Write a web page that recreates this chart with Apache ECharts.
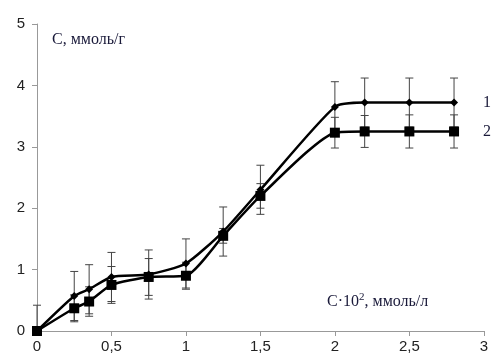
<!DOCTYPE html>
<html>
<head>
<meta charset="utf-8">
<script src="https://cdn.jsdelivr.net/npm/echarts@6/dist/echarts.min.js"></script>
<style>
  html, body { margin: 0; padding: 0; background: #fff; }
  #main { width: 491px; height: 361px; }
</style>
</head>
<body>
<div id="main"></div>
<script>
// концентрация, C*10^2 ммоль/л
var xs = [0, 0.25, 0.35, 0.5, 0.75, 1, 1.25, 1.5, 2, 2.2, 2.5, 2.8];
// кривая 1
var s1 = [0, 0.57, 0.68, 0.88, 0.92, 1.1, 1.62, 2.3, 3.65, 3.72, 3.72, 3.72];
var err1 = [0.42, 0.4, 0.4, 0.4, 0.4, 0.4, 0.4, 0.4, 0.41, 0.4, 0.4, 0.4];
// кривая 2
var s2 = [0, 0.37, 0.48, 0.75, 0.88, 0.9, 1.55, 2.2, 3.23, 3.25, 3.25, 3.25];
var err2 = [0, 0.22, 0.24, 0.3, 0.3, 0.22, 0.12, 0.2, 0.25, 0.26, 0.27, 0.27];

var xTicks = [0, 0.5, 1, 1.5, 2, 2.5, 3];
var yTicks = [0, 1, 2, 3, 4, 5];

function pairs(ys) {
  var out = [];
  for (let i = 0; i < xs.length; i++) out.push([xs[i], ys[i]]);
  return out;
}
function errData(ys, es) {
  var out = [];
  for (let i = 0; i < xs.length; i++) {
    if (es[i] > 0) out.push([xs[i], Math.max(0, ys[i] - es[i]), ys[i] + es[i]]);
  }
  return out;
}
function renderErr(params, api) {
  var x = api.value(0);
  var lo = api.coord([x, api.value(1)]);
  var hi = api.coord([x, api.value(2)]);
  var st = { stroke: '#444', lineWidth: 1 };
  var w = 4;
  return {
    type: 'group',
    children: [
      { type: 'line', shape: { x1: hi[0], y1: hi[1], x2: lo[0], y2: lo[1] }, style: st },
      { type: 'line', shape: { x1: hi[0] - w, y1: hi[1], x2: hi[0] + w, y2: hi[1] }, style: st },
      { type: 'line', shape: { x1: lo[0] - w, y1: lo[1], x2: lo[0] + w, y2: lo[1] }, style: st }
    ]
  };
}

var chart = echarts.init(document.getElementById('main'));
chart.setOption({
  animation: false,
  grid: { left: 37, right: 7, top: 24, bottom: 30 },
  xAxis: {
    type: 'value', min: 0, max: 3, interval: 0.5,
    axisLine: { lineStyle: { color: '#999' } },
    axisTick: { show: true, length: 5, lineStyle: { color: '#999' } },
    splitLine: { show: false },
    axisLabel: {
      color: '#222', fontSize: 15, fontFamily: 'Liberation Sans', margin: 8,
      formatter: function (v) { return String(v).replace('.', ','); }
    }
  },
  yAxis: {
    type: 'value', min: 0, max: 5, interval: 1,
    axisLine: { show: true, lineStyle: { color: '#999' } },
    axisTick: { show: true, length: 5, lineStyle: { color: '#999' } },
    splitLine: { show: false },
    axisLabel: { color: '#222', fontSize: 15, fontFamily: 'Liberation Sans', margin: 12 }
  },
  graphic: [
    { type: 'text', left: 52, top: 32,
      style: { text: 'С, ммоль/г', font: '16px "Liberation Serif"', fill: '#1a1a3a' } },
    { type: 'text', left: 327, top: 292,
      style: {
        text: '{a|С·10}{s|2}{a|, ммоль/л}',
        rich: {
          a: { font: '16px "Liberation Serif"', fill: '#1a1a3a', verticalAlign: 'bottom' },
          s: { font: '11px "Liberation Serif"', fill: '#1a1a3a', padding: [0, 0, 7, 0], verticalAlign: 'bottom' }
        }
      } }
  ],
  series: [
    { type: 'custom', renderItem: renderErr, data: errData(s1, err1), z: 1, silent: true },
    { type: 'custom', renderItem: renderErr, data: errData(s2, err2), z: 1, silent: true },
    {
      name: '1', type: 'line', data: pairs(s1), smooth: 0.2, z: 3,
      symbol: 'diamond', symbolSize: 8,
      lineStyle: { color: '#000', width: 2.5 },
      itemStyle: { color: '#000' },
      endLabel: { show: true, formatter: '1', distance: 29, color: '#1a1a3a',
        fontSize: 16, fontFamily: 'Liberation Serif' }
    },
    {
      name: '2', type: 'line', data: pairs(s2), smooth: 0.2, z: 3,
      symbol: 'rect', symbolSize: 10,
      lineStyle: { color: '#000', width: 2.5 },
      itemStyle: { color: '#000' },
      endLabel: { show: true, formatter: '2', distance: 29, color: '#1a1a3a',
        fontSize: 16, fontFamily: 'Liberation Serif' }
    }
  ]
});
</script>
</body>
</html>
